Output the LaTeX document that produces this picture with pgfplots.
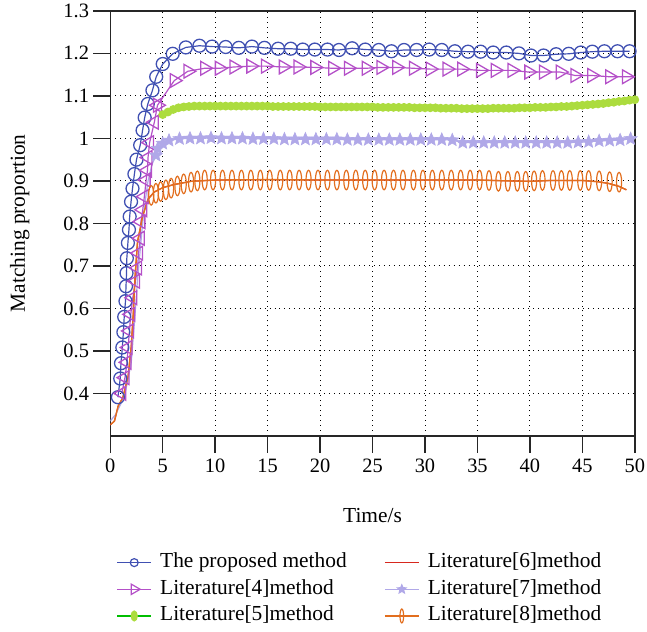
\documentclass[border=0pt]{standalone}
\usepackage{fontspec}
\setmainfont{Liberation Serif}
\usepackage{pgfplots}
\pgfplotsset{compat=1.18}
\definecolor{propc}{RGB}{64,80,178}
\definecolor{lfour}{RGB}{180,80,200}
\definecolor{lfive}{RGB}{172,220,62}
\definecolor{lfiveline}{RGB}{0,190,0}
\definecolor{lsix}{RGB}{215,40,30}
\definecolor{lseven}{RGB}{176,168,232}
\definecolor{leight}{RGB}{226,110,30}
\pgfdeclareplotmark{vellipse}{%
  \pgfpathellipse{\pgfpointorigin}{\pgfqpoint{0.26\pgfplotmarksize}{0pt}}{\pgfqpoint{0pt}{\pgfplotmarksize}}%
  \pgfusepathqstroke}
\pgfdeclareplotmark{fellipse}{%
  \pgfpathellipse{\pgfpointorigin}{\pgfqpoint{0.6\pgfplotmarksize}{0pt}}{\pgfqpoint{0pt}{\pgfplotmarksize}}%
  \pgfusepathqfillstroke}
\pgfdeclareplotmark{fstar}{%
  \pgfpathmoveto{\pgfpointpolar{90}{\pgfplotmarksize}}%
  \pgfpathlineto{\pgfpointpolar{126}{0.45\pgfplotmarksize}}%
  \pgfpathlineto{\pgfpointpolar{162}{\pgfplotmarksize}}%
  \pgfpathlineto{\pgfpointpolar{198}{0.45\pgfplotmarksize}}%
  \pgfpathlineto{\pgfpointpolar{234}{\pgfplotmarksize}}%
  \pgfpathlineto{\pgfpointpolar{270}{0.45\pgfplotmarksize}}%
  \pgfpathlineto{\pgfpointpolar{306}{\pgfplotmarksize}}%
  \pgfpathlineto{\pgfpointpolar{342}{0.45\pgfplotmarksize}}%
  \pgfpathlineto{\pgfpointpolar{18}{\pgfplotmarksize}}%
  \pgfpathlineto{\pgfpointpolar{54}{0.45\pgfplotmarksize}}%
  \pgfpathclose\pgfusepathqfillstroke}
\begin{document}
\begin{tikzpicture}
\begin{axis}[
  scale only axis, width=263.5pt, height=213.5pt,
  xmin=0, xmax=50, ymin=0.3, ymax=1.3,
  xtick={0,5,10,15,20,25,30,35,40,45,50},
  ytick={0.4,0.5,0.6,0.7,0.8,0.9,1,1.1,1.2,1.3},
  tick pos=left, tick align=outside, major tick length=8.5pt,
  tick style={black!85, line width=0.7pt},
  axis line style={black!85, line width=0.7pt},
  grid=major,
  grid style={black, line width=0.5pt, dash pattern=on 0.5pt off 2pt},
  font=\fontsize{10.75}{13}\selectfont,
  tick label style={font=\fontsize{10.25}{12}\selectfont, inner sep=1pt},
  /pgf/number format/assume math mode=true,
  xticklabel={\pgfmathprintnumber{\tick}},
  yticklabel={\pgfmathprintnumber{\tick}},
  yticklabel style={xshift=-1pt, inner ysep=2pt},
  xticklabel style={yshift=-2pt},
  xlabel={Time/s}, ylabel={Matching proportion},
  every axis x label/.style={at={(axis description cs:0.5,-0.187)}, anchor=center},
  every axis y label/.style={at={(axis description cs:-0.1727,0.5)}, rotate=90, anchor=center, inner sep=5pt},
  legend style={at={(axis description cs:0.0,-0.2607)}, anchor=north west,
    draw=none, fill=none, column sep=3.4pt, row sep=1.8pt,
    /tikz/column 2/.style={column sep=18pt},
    nodes={inner sep=0.8pt, text height=0.75em, text depth=0.25em}},
  legend columns=2, legend cell align=left,
]
% Proposed method
\addplot[forget plot, color=propc, line width=0.6pt, mark=o, mark size=3.25pt, mark options={line width=0.65pt}] coordinates {
(0.73,0.391)(0.95,0.435)(1.02,0.471)(1.15,0.508)(1.25,0.544)(1.33,0.580)(1.45,0.617)(1.50,0.652)(1.55,0.683)(1.58,0.718)(1.68,0.754)(1.78,0.785)(1.85,0.816)(1.98,0.851)(2.12,0.882)(2.30,0.916)(2.50,0.950)(2.85,0.984)(3.08,1.019)(3.28,1.049)(3.58,1.081)(4.02,1.113)(4.38,1.145)(5.0,1.175)(5.95,1.199)
(7.2,1.214)(8.5,1.218)(9.7,1.216)(11.0,1.215)(12.25,1.213)(13.5,1.216)(14.7,1.213)(16.0,1.211)(17.2,1.211)(18.35,1.209)(19.5,1.209)(20.7,1.209)(21.8,1.208)(23.05,1.212)(24.3,1.209)(25.6,1.208)(26.8,1.205)(28.0,1.208)(29.2,1.208)(30.4,1.209)(31.6,1.208)(32.85,1.205)(34.1,1.204)(35.3,1.204)(36.5,1.202)(37.75,1.202)(38.95,1.200)(40.1,1.195)(41.3,1.195)(42.5,1.198)(43.7,1.199)(44.85,1.202)(45.95,1.204)(47.1,1.205)(48.35,1.205)(49.5,1.205)};
% Literature[4] rise (left-pointing marks) and plateau
\addplot[forget plot, color=lfour, line width=0.6pt, mark=triangle, mark size=4pt, mark options={rotate=90, line width=0.65pt}] coordinates {
(1.1,0.400)(1.4,0.437)(1.6,0.473)(1.7,0.508)(1.83,0.547)(1.95,0.586)(2.15,0.625)(2.4,0.664)(2.6,0.695)(2.7,0.730)(2.85,0.765)(2.92,0.804)(3.1,0.832)(3.25,0.863)(3.42,0.902)(3.55,0.925)(3.6,0.955)(3.75,0.990)(4.2,1.038)(4.5,1.078)};
\addplot[forget plot, color=lfour, line width=0.6pt, mark=triangle, mark size=4pt, mark options={rotate=-90, line width=0.65pt}] coordinates {
(4.5,1.078)(6.1,1.136)(7.4,1.158)(9.0,1.165)(10.4,1.165)(11.8,1.168)(13.4,1.170)(14.8,1.170)(16.5,1.168)(17.9,1.168)(19.5,1.167)(21.2,1.165)(22.7,1.165)(24.4,1.165)(25.8,1.167)(27.3,1.167)(28.9,1.165)(30.5,1.163)(32.1,1.163)(33.5,1.163)(35.3,1.160)(36.7,1.160)(38.3,1.160)(39.9,1.156)(41.3,1.156)(42.9,1.156)(44.3,1.148)(45.9,1.148)(47.6,1.145)(49.2,1.145)(50.3,1.145)};
% Literature[5]
\addplot[forget plot, color=lfive, line width=0.6pt, mark=*, mark size=1.9pt, mark options={fill=lfive, draw=lfive}] coordinates {
(5.0,1.056)(5.5,1.062)(6.0,1.068)(6.5,1.072)(7.0,1.074)(7.5,1.075)(8.0,1.076)(8.5,1.076)(9.0,1.076)(9.5,1.076)(10.0,1.076)(10.5,1.076)(11.0,1.076)(11.5,1.076)(12.0,1.076)(12.5,1.076)(13.0,1.076)(13.5,1.076)(14.0,1.076)(14.5,1.076)(15.0,1.076)(15.5,1.075)(16.0,1.075)(16.5,1.075)(17.0,1.075)(17.5,1.075)(18.0,1.075)(18.5,1.075)(19.0,1.075)(19.5,1.075)(20.0,1.074)(20.5,1.074)(21.0,1.074)(21.5,1.074)(22.0,1.074)(22.5,1.074)(23.0,1.074)(23.5,1.074)(24.0,1.074)(24.5,1.074)(25.0,1.074)(25.5,1.073)(26.0,1.073)(26.5,1.073)(27.0,1.073)(27.5,1.073)(28.0,1.073)(28.5,1.073)(29.0,1.072)(29.5,1.072)(30.0,1.072)(30.5,1.072)(31.0,1.072)(31.5,1.071)(32.0,1.071)(32.5,1.071)(33.0,1.071)(33.5,1.070)(34.0,1.070)(34.5,1.070)(35.0,1.070)(35.5,1.070)(36.0,1.070)(36.5,1.071)(37.0,1.071)(37.5,1.071)(38.0,1.071)(38.5,1.071)(39.0,1.072)(39.5,1.072)(40.0,1.072)(40.5,1.073)(41.0,1.073)(41.5,1.073)(42.0,1.074)(42.5,1.074)(43.0,1.075)(43.5,1.075)(44.0,1.076)(44.5,1.077)(45.0,1.078)(45.5,1.079)(46.0,1.080)(46.5,1.081)(47.0,1.082)(47.5,1.084)(48.0,1.085)(48.5,1.087)(49.0,1.088)(49.5,1.090)(50.0,1.091)};
% Literature[6] (hidden under Literature[8] line)
\addplot[forget plot, color=lsix, line width=0.6pt] coordinates {
(0,0.326)(0.4,0.335)(0.75,0.37)(1.2,0.39)(1.7,0.44)(2.0,0.51)(2.2,0.59)(2.35,0.67)(2.6,0.757)(3.1,0.818)(3.6,0.857)(4.2,0.874)(5.0,0.884)(6.0,0.891)(7.7,0.899)(10,0.902)(15,0.903)(20,0.902)(30,0.902)(35,0.902)(38,0.900)(40,0.899)(42,0.901)(45,0.901)(46.5,0.898)(47.5,0.894)(48.5,0.887)(49.2,0.879)};
% Literature[7]
\addplot[forget plot, color=lseven, line width=0.6pt] coordinates {
(0,0.335)(0.5,0.35)(1.0,0.375)(1.5,0.41)(2.0,0.473)(2.3,0.566)(2.6,0.668)(2.9,0.75)(3.2,0.83)(3.6,0.90)(4.0,0.94)(4.36,0.96)};
\addplot[forget plot, color=lseven, line width=0.6pt, mark=fstar, mark size=3.4pt, mark options={fill=lseven, draw=lseven, line width=0.3pt}] coordinates {
(4.36,0.960)(4.52,0.976)(5.0,0.988)(5.6,0.995)(6.6,0.999)(7.6,1.000)(8.6,1.000)(9.6,1.001)(10.6,1.000)(11.6,1.000)(12.6,1.000)(13.6,0.999)(14.6,0.999)(15.6,0.999)(16.6,0.998)(17.6,0.998)(18.6,0.998)(19.6,0.998)(20.6,0.998)(21.6,0.998)(22.6,0.997)(23.6,0.997)(24.6,0.997)(25.6,0.997)(26.6,0.997)(27.6,0.997)(28.6,0.997)(29.6,0.997)(30.6,0.997)(31.6,0.997)(32.6,0.996)(33.6,0.990)(34.6,0.990)(35.6,0.990)(36.6,0.990)(37.6,0.990)(38.6,0.990)(39.6,0.990)(40.6,0.990)(41.6,0.990)(42.6,0.990)(43.6,0.990)(44.6,0.991)(45.6,0.992)(46.6,0.994)(47.6,0.995)(48.6,0.996)(49.6,0.999)(50.2,1.002)};
% Literature[8]
\addplot[forget plot, color=leight, line width=0.7pt] coordinates {
(0,0.326)(0.4,0.335)(0.75,0.37)(1.2,0.39)(1.7,0.44)(2.0,0.51)(2.2,0.59)(2.35,0.67)(2.6,0.757)(3.1,0.818)(3.6,0.857)(4.2,0.874)(5.0,0.884)(6.0,0.891)(7.7,0.899)(10,0.902)(15,0.903)(20,0.902)(30,0.902)(35,0.902)(38,0.900)(40,0.899)(42,0.901)(45,0.901)(46.5,0.898)(47.5,0.894)(48.5,0.887)(49.2,0.879)};
\addplot[forget plot, only marks, color=leight, mark=vellipse, mark size=4.9pt, mark options={line width=0.6pt}] coordinates {
(3.9,0.866)(4.35,0.871)(4.8,0.875)(5.3,0.879)(5.8,0.883)(6.4,0.888)(7.0,0.893)(7.7,0.897)(8.3,0.900)(9.0,0.902)(9.8,0.902)(10.7,0.902)(11.6,0.902)(12.5,0.902)(13.4,0.902)(14.3,0.902)(15.2,0.902)(16.2,0.902)(17.1,0.902)(18.0,0.902)(18.9,0.902)(19.8,0.902)(20.7,0.902)(21.6,0.902)(22.5,0.902)(23.4,0.902)(24.3,0.902)(25.2,0.902)(26.1,0.902)(27.0,0.902)(27.9,0.902)(28.9,0.902)(29.8,0.902)(30.7,0.902)(31.6,0.902)(32.5,0.902)(33.4,0.902)(34.3,0.902)(35.2,0.902)(36.1,0.901)(37.0,0.899)(37.9,0.899)(38.8,0.899)(39.6,0.899)(40.4,0.900)(41.2,0.901)(42.2,0.901)(43.0,0.901)(43.8,0.901)(44.8,0.901)(45.6,0.901)(46.6,0.900)(47.6,0.898)(48.5,0.897)};
% Legend (row-major: left column proposed, [4], [5]; right column [6], [7], [8])
\addlegendimage{color=propc, line width=0.6pt, mark=o, mark size=2pt}
\addlegendentry{The proposed method}
\addlegendimage{color=lsix, line width=0.6pt}
\addlegendentry{Literature[6]method}
\addlegendimage{color=lfour, line width=0.6pt, mark=triangle, mark size=3pt, mark options={rotate=-90}}
\addlegendentry{Literature[4]method}
\addlegendimage{color=lseven, line width=0.6pt, mark=fstar, mark size=2.2pt, mark options={fill=lseven}}
\addlegendentry{Literature[7]method}
\addlegendimage{color=lfiveline, line width=0.6pt, mark=fellipse, mark size=2.5pt, mark options={fill=lfive, draw=lfive}}
\addlegendentry{Literature[5]method}
\addlegendimage{color=leight, line width=0.6pt, mark=vellipse, mark size=3.5pt}
\addlegendentry{Literature[8]method}
\end{axis}
\end{tikzpicture}
\end{document}
